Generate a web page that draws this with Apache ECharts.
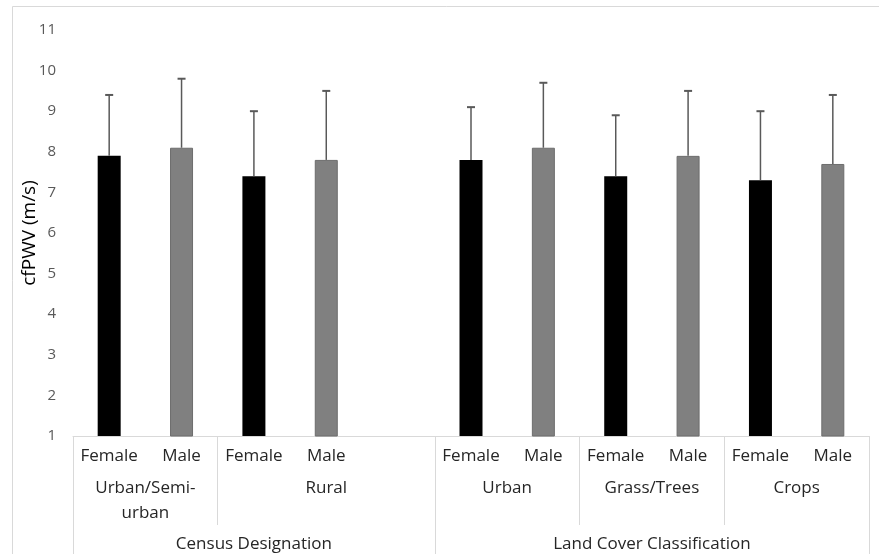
<!DOCTYPE html>
<html>
<head>
<meta charset="utf-8">
<script src="https://cdn.jsdelivr.net/npm/echarts@6/dist/echarts.min.js"></script>
<style>
  html, body { margin: 0; padding: 0; background: #fff; }
  #chart { width: 879px; height: 554px; }
</style>
</head>
<body>
<div id="chart"></div>
<script>
// cfPWV by sex, grouped by census designation and land cover classification
const sexes = ['Female', 'Male'];
const topGroups = ['Census Designation', 'Land Cover Classification'];
const subgroups = ['Urban/Semi-\nurban', 'Rural', 'Urban', 'Grass/Trees', 'Crops'];
const subgroupParent = [0, 0, 1, 1, 1];

const femaleMean = [7.9, 7.4, 7.8, 7.4, 7.3];
const femaleSD   = [1.5, 1.6, 1.3, 1.5, 1.7];
const maleMean   = [8.1, 7.8, 8.1, 7.9, 7.7];
const maleSD     = [1.7, 1.7, 1.6, 1.6, 1.7];

const yTicks = { min: 1, max: 11, step: 1 };

// Build the category slots: Female, Male for each subgroup, with one empty slot between top-level groups
const categories = [];
const femaleBars = [];
const maleBars = [];
const errorData = [];
const subStart = [];
const topStart = [];
topGroups.forEach(function (tg, g) {
  topStart.push(categories.length);
  subgroups.forEach(function (sg, s) {
    if (subgroupParent[s] !== g) return;
    subStart.push(categories.length);
    categories.push(sexes[0]);
    femaleBars.push(femaleMean[s]);
    maleBars.push('-');
    errorData.push([categories.length - 1, femaleMean[s], femaleSD[s]]);
    categories.push(sexes[1]);
    femaleBars.push('-');
    maleBars.push(maleMean[s]);
    errorData.push([categories.length - 1, maleMean[s], maleSD[s]]);
  });
  if (g < topGroups.length - 1) {
    categories.push('');
    femaleBars.push('-');
    maleBars.push('-');
  }
});
const total = categories.length;

const subBounds = subStart.concat([total]);
const subCenters = subgroups.map(function (_, i) { return (subBounds[i] + subBounds[i + 1]) / 2; });
const innerSubBounds = subStart.filter(function (v) { return topStart.indexOf(v) < 0; });
const topBounds = topStart.concat([total]);
const topCenters = topGroups.map(function (_, i) { return (topBounds[i] + topBounds[i + 1]) / 2; });

function labelAt(centers, names) {
  return function (v) {
    for (let i = 0; i < centers.length; i++) {
      if (Math.abs(centers[i] - v) < 1e-6) return names[i];
    }
    return '';
  };
}

const FONT = '"Open Sans", "Noto Sans", sans-serif';
const TEXT = '#262626';
const LINE = '#d9d9d9';

const chart = echarts.init(document.getElementById('chart'), null, { renderer: 'canvas' });

chart.setOption({
  animation: false,
  backgroundColor: '#ffffff',
  textStyle: { fontFamily: FONT },
  graphic: [{
    type: 'rect',
    shape: { x: 12.5, y: 6.5, width: 1000, height: 1000 },
    style: { fill: 'none', stroke: LINE, lineWidth: 1 },
    silent: true,
    z: -10
  }],
  grid: {
    left: 73, right: 10, top: 30, bottom: 118,
    containLabel: false, outerBoundsMode: 'none'
  },
  xAxis: [
    {
      type: 'category',
      data: categories,
      axisLine: { show: true, lineStyle: { color: LINE, width: 1 } },
      axisTick: { show: false },
      axisLabel: {
        interval: 0, margin: 10, fontSize: 17, lineHeight: 20,
        color: TEXT, fontFamily: FONT
      },
      splitLine: { show: false }
    },
    {
      type: 'value',
      min: 0, max: total,
      position: 'bottom',
      axisLine: { show: false },
      splitLine: { show: false },
      axisTick: {
        show: true, customValues: innerSubBounds, length: 89,
        lineStyle: { color: LINE, width: 1 }
      },
      axisLabel: {
        customValues: subCenters,
        formatter: labelAt(subCenters, subgroups),
        margin: 40, fontSize: 17, lineHeight: 25,
        color: TEXT, fontFamily: FONT, align: 'center'
      }
    },
    {
      type: 'value',
      min: 0, max: total,
      position: 'bottom',
      axisLine: { show: false },
      splitLine: { show: false },
      axisTick: {
        show: true, customValues: topBounds, length: 140,
        lineStyle: { color: LINE, width: 1 }
      },
      axisLabel: {
        customValues: topCenters,
        formatter: labelAt(topCenters, topGroups),
        margin: 96, fontSize: 17, lineHeight: 25,
        color: TEXT, fontFamily: FONT, align: 'center'
      }
    }
  ],
  yAxis: {
    type: 'value',
    min: yTicks.min, max: yTicks.max, interval: yTicks.step,
    name: 'cfPWV (m/s)',
    nameLocation: 'middle',
    nameRotate: 90,
    nameGap: 34,
    nameMoveOverlap: false,
    nameTextStyle: { fontSize: 19, color: '#000000', fontFamily: FONT },
    axisLine: { show: false },
    axisTick: { show: false },
    splitLine: { show: false },
    axisLabel: { fontSize: 15, color: '#595959', margin: 17, fontFamily: FONT }
  },
  series: [
    {
      name: sexes[0],
      type: 'bar',
      data: femaleBars,
      barWidth: 23,
      barGap: '-100%',
      itemStyle: { color: '#000000' }
    },
    {
      name: sexes[1],
      type: 'bar',
      data: maleBars,
      barWidth: 23,
      barGap: '-100%',
      itemStyle: { color: '#808080', borderColor: '#6d6d6d', borderWidth: 1 }
    },
    {
      name: 'SD',
      type: 'custom',
      data: errorData,
      z: 5,
      renderItem: function (params, api) {
        const x = api.value(0);
        const mean = api.value(1);
        const sd = api.value(2);
        const base = api.coord([x, mean]);
        const top = api.coord([x, mean + sd]);
        const half = 4;
        return {
          type: 'group',
          children: [
            { type: 'line', shape: { x1: base[0], y1: base[1], x2: top[0], y2: top[1] }, style: { stroke: '#595959', lineWidth: 1.5 } },
            { type: 'line', shape: { x1: top[0] - half, y1: top[1], x2: top[0] + half, y2: top[1] }, style: { stroke: '#595959', lineWidth: 2 } }
          ]
        };
      }
    }
  ]
});
</script>
</body>
</html>
